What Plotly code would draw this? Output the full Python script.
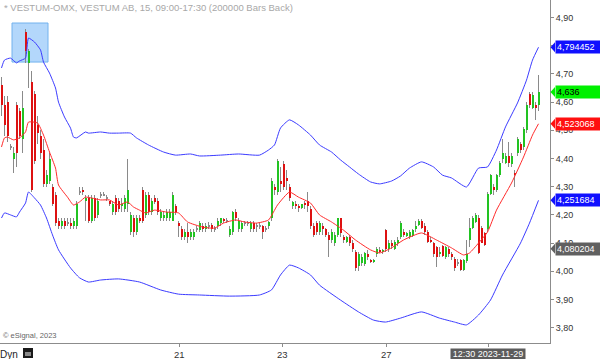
import plotly.graph_objects as go

# ---------------- data ----------------
bar_open = [4.66,4.59,4.60,4.44,4.40,4.59,4.57,4.47,4.85,4.74,
            4.67,4.63,4.52,4.48,4.43,4.31,4.32,4.30,4.27,4.18,
            4.16,4.18,4.17,4.17,4.16,4.16,4.28,4.29,4.25,4.26,
            4.18,4.26,4.20,4.27,4.27,4.26,4.25,4.21,4.26,4.25,
            4.23,4.22,4.24,4.14,4.19,4.14,4.19,4.29,4.20,4.27,
            4.21,4.26,4.25,4.19,4.19,4.19,4.19,4.18,4.23,4.17,
            4.15,4.12,4.14,4.12,4.12,4.15,4.145,4.16,4.15,4.16,
            4.165,4.15,4.16,4.17,4.185,4.18,4.13,4.14,4.21,4.15,
            4.15,4.17,4.17,4.15,4.17,4.16,4.16,4.16,4.15,4.16,
            4.19,4.30,4.28,4.32,4.38,4.33,4.30,4.23,4.24,4.23,
            4.225,4.24,4.25,4.22,4.16,4.17,4.14,4.16,4.15,4.13,
            4.11,4.10,4.13,4.19,4.12,4.105,4.12,4.10,4.07,4.02,
            4.03,4.025,4.06,4.04,4.035,4.06,4.075,4.07,4.145,4.08,
            4.10,4.08,4.10,4.12,4.14,4.125,4.12,4.125,4.15,4.165,
            4.18,4.16,4.14,4.11,4.10,4.085,4.06,4.09,4.05,4.08,
            4.06,4.045,4.03,4.04,4.005,4.035,4.11,4.155,4.175,4.19,
            4.155,4.135,4.15,4.275,4.30,4.29,4.34,4.40,4.385,4.41,
            4.38,4.35,4.42,4.45,4.44,4.50,4.63,4.58,4.59,4.59]
bar_high = [4.69,4.62,4.62,4.45,4.44,4.60,4.58,4.64,4.86,4.79,
            4.71,4.64,4.55,4.50,4.47,4.36,4.42,4.31,4.28,4.19,
            4.19,4.19,4.19,4.19,4.19,4.25,4.30,4.30,4.27,4.27,
            4.27,4.27,4.26,4.28,4.28,4.27,4.25,4.25,4.27,4.26,
            4.26,4.27,4.40,4.21,4.20,4.20,4.20,4.30,4.28,4.28,
            4.26,4.27,4.26,4.22,4.21,4.22,4.22,4.28,4.24,4.18,
            4.16,4.15,4.17,4.15,4.15,4.16,4.18,4.17,4.17,4.175,
            4.17,4.16,4.19,4.19,4.19,4.19,4.16,4.215,4.22,4.19,
            4.18,4.18,4.18,4.18,4.18,4.17,4.17,4.165,4.16,4.18,
            4.33,4.31,4.40,4.37,4.39,4.36,4.31,4.25,4.25,4.24,
            4.24,4.25,4.28,4.23,4.17,4.18,4.18,4.17,4.155,4.14,
            4.15,4.14,4.19,4.19,4.13,4.125,4.13,4.11,4.075,4.07,
            4.06,4.07,4.075,4.045,4.045,4.085,4.085,4.08,4.15,4.11,
            4.11,4.11,4.12,4.18,4.15,4.14,4.145,4.15,4.18,4.185,
            4.185,4.17,4.145,4.12,4.105,4.09,4.085,4.095,4.09,4.085,
            4.07,4.05,4.045,4.045,4.045,4.11,4.19,4.195,4.205,4.20,
            4.16,4.14,4.28,4.345,4.31,4.345,4.39,4.47,4.42,4.46,
            4.42,4.36,4.475,4.46,4.51,4.60,4.635,4.635,4.60,4.695]
bar_low = [4.55,4.48,4.46,4.43,4.35,4.37,4.47,4.42,4.74,4.65,
           4.28,4.38,4.45,4.40,4.30,4.30,4.31,4.23,4.16,4.15,
           4.15,4.15,4.16,4.15,4.15,4.15,4.27,4.27,4.18,4.17,
           4.17,4.18,4.19,4.26,4.27,4.25,4.23,4.20,4.20,4.21,
           4.21,4.21,4.21,4.13,4.12,4.13,4.17,4.17,4.19,4.20,
           4.20,4.24,4.20,4.18,4.18,4.18,4.18,4.18,4.20,4.12,
           4.11,4.11,4.10,4.11,4.11,4.14,4.14,4.14,4.14,4.15,
           4.14,4.14,4.15,4.16,4.17,4.17,4.12,4.13,4.18,4.14,
           4.14,4.16,4.16,4.14,4.14,4.14,4.15,4.115,4.14,4.15,
           4.18,4.27,4.27,4.28,4.29,4.29,4.25,4.22,4.22,4.21,
           4.22,4.22,4.21,4.15,4.12,4.13,4.13,4.13,4.12,4.05,
           4.10,4.09,4.12,4.12,4.10,4.10,4.09,4.07,4.00,4.00,
           4.02,4.02,4.04,4.03,4.03,4.05,4.065,4.06,4.07,4.07,
           4.08,4.075,4.09,4.115,4.12,4.12,4.115,4.12,4.14,4.16,
           4.15,4.13,4.10,4.10,4.05,4.015,4.05,4.05,4.045,4.05,
           4.04,4.00,4.02,4.00,4.00,4.03,4.085,4.15,4.17,4.06,
           4.10,4.09,4.14,4.27,4.27,4.28,4.335,4.385,4.38,4.37,
           4.37,4.30,4.41,4.42,4.43,4.49,4.58,4.575,4.535,4.57]
bar_close = [4.59,4.52,4.48,4.44,4.42,4.42,4.48,4.58,4.78,4.78,
             4.29,4.39,4.49,4.42,4.31,4.34,4.40,4.24,4.17,4.16,
             4.18,4.16,4.17,4.16,4.18,4.24,4.28,4.28,4.26,4.18,
             4.26,4.19,4.25,4.27,4.27,4.26,4.24,4.24,4.21,4.22,
             4.24,4.26,4.29,4.20,4.14,4.19,4.18,4.18,4.27,4.21,
             4.25,4.245,4.21,4.21,4.20,4.21,4.21,4.27,4.21,4.16,
             4.12,4.14,4.12,4.14,4.14,4.15,4.17,4.15,4.16,4.16,
             4.15,4.15,4.18,4.19,4.18,4.18,4.15,4.21,4.19,4.18,
             4.17,4.17,4.17,4.17,4.15,4.16,4.16,4.14,4.15,4.175,
             4.32,4.29,4.39,4.31,4.30,4.32,4.26,4.245,4.23,4.225,
             4.24,4.235,4.23,4.16,4.13,4.14,4.17,4.15,4.13,4.11,
             4.14,4.13,4.19,4.135,4.11,4.12,4.10,4.08,4.01,4.06,
             4.05,4.065,4.05,4.035,4.04,4.08,4.07,4.075,4.08,4.10,
             4.09,4.105,4.11,4.17,4.13,4.135,4.14,4.145,4.16,4.18,
             4.155,4.14,4.105,4.105,4.06,4.05,4.07,4.055,4.085,4.06,
             4.05,4.01,4.03,4.005,4.04,4.06,4.155,4.19,4.20,4.065,
             4.10,4.095,4.275,4.34,4.29,4.34,4.385,4.42,4.41,4.385,
             4.41,4.34,4.47,4.43,4.505,4.59,4.59,4.625,4.58,4.636]

upper_idx = [0,1,3,5,6,8,9,11,13,14,16,18,19,21,23,24,25,28,29,33,
             36,39,43,45,49,54,58,63,66,73,79,86,89,91,93,96,99,103,106,110,
             113,116,119,123,126,130,133,136,140,144,147,150,155,159,162,165,168,172,175,177,179]
upper_val = [4.721,4.749,4.756,4.739,4.746,4.756,4.827,4.813,4.785,4.742,
             4.703,4.650,4.600,4.547,4.508,4.476,4.473,4.494,4.490,4.494,
             4.490,4.490,4.490,4.473,4.448,4.423,4.412,4.416,4.409,4.412,
             4.416,4.412,4.430,4.448,4.508,4.537,4.519,4.483,4.448,4.423,
             4.395,4.370,4.345,4.317,4.310,4.320,4.338,4.366,4.388,4.370,
             4.341,4.331,4.299,4.366,4.370,4.430,4.512,4.597,4.678,4.749,4.794452]

lower_idx = [0,1,3,5,6,8,9,11,13,15,17,19,23,26,29,33,39,46,53,59,
             66,76,86,90,93,96,99,103,106,113,119,124,128,133,140,146,151,155,159,163,
             167,173,176,179]
lower_val = [4.189,4.207,4.200,4.193,4.210,4.242,4.281,4.260,4.235,4.189,
             4.129,4.076,4.012,3.977,3.962,3.969,3.973,3.962,3.934,3.919,
             3.916,3.912,3.916,3.934,3.987,4.022,4.012,3.987,3.951,3.898,
             3.856,3.827,3.820,3.834,3.856,3.834,3.820,3.810,3.845,3.898,
             3.987,4.100,4.171,4.251684]

mid_idx = [0,1,2,4,6,8,9,12,14,16,18,19,22,24,26,28,30,33,36,39,
           42,44,46,48,51,55,59,62,67,71,74,78,81,85,89,92,96,99,103,106,
           110,114,118,123,126,130,134,140,145,150,154,156,159,162,165,170,174,177,179]
mid_val = [4.441,4.473,4.476,4.466,4.473,4.494,4.529,4.526,4.483,4.423,
           4.366,4.306,4.263,4.235,4.246,4.263,4.260,4.253,4.253,4.235,
           4.246,4.228,4.217,4.207,4.217,4.210,4.207,4.175,4.157,4.153,
           4.171,4.182,4.175,4.171,4.182,4.235,4.281,4.263,4.242,4.200,
           4.175,4.146,4.111,4.076,4.065,4.083,4.111,4.136,4.111,4.083,
           4.058,4.065,4.100,4.139,4.217,4.313,4.405,4.483,4.523068]

xtick_pos = [59.2, 93.8, 128.2, 162.2]
xtick_text = ["21", "23", "27", ""]
cursor_label = "12:30 2023-11-29"
cursor_pos = 162.2

right_label_vals = [4.794452, 4.636, 4.523068, 4.251684, 4.080204]
right_label_text = ["4,794452", "4,636", "4,523068", "4,251684", "4,080204"]
right_label_bg = ["#1010ff", "#00f000", "#ff1010", "#1010ff", "#606060"]
right_label_fg = ["white", "black", "white", "white", "white"]

title_text = "* VESTUM-OMX, VESTUM AB, 15, 09:00-17:30 (200000 Bars Back)"

# ---------------- figure ----------------
FONT = "Liberation Sans, Arial, sans-serif"
W, H = 600, 359
ML, MR, MT, MB = 0, 50, 0, 16
PW = W - ML - MR
PH = H - MT - MB

n = len(bar_open)
idx = list(range(n))

GREEN = "#22c322"
RED = "#dd1111"
WICK = "#8a8a8a"

fig = go.Figure()

# wicks
fig.add_trace(go.Bar(x=idx, base=bar_low,
                     y=[h - l for h, l in zip(bar_high, bar_low)],
                     width=1/3, marker=dict(color=WICK, line=dict(width=0)),
                     hoverinfo="skip", showlegend=False))

# bodies
body_base, body_h, body_col = [], [], []
for o, c in zip(bar_open, bar_close):
    d = c - o
    if abs(d) < 0.004:
        body_base.append(o - 0.002)
        body_h.append(0.004)
        body_col.append(WICK)
    else:
        body_base.append(o)
        body_h.append(d)
        body_col.append(GREEN if d > 0 else RED)
fig.add_trace(go.Bar(x=idx, base=body_base, y=body_h, width=2/3,
                     marker=dict(color=body_col, line=dict(width=0)),
                     hoverinfo="skip", showlegend=False))

line_style = dict(shape="spline", smoothing=0.5, width=1)
fig.add_trace(go.Scatter(x=upper_idx, y=upper_val, mode="lines",
                         line=dict(color="#3b3bff", **line_style),
                         hoverinfo="skip", showlegend=False))
fig.add_trace(go.Scatter(x=lower_idx, y=lower_val, mode="lines",
                         line=dict(color="#3b3bff", **line_style),
                         hoverinfo="skip", showlegend=False))
fig.add_trace(go.Scatter(x=mid_idx, y=mid_val, mode="lines",
                         line=dict(color="#ff2a2a", **line_style),
                         hoverinfo="skip", showlegend=False))

shapes = []
# highlight box around the peak
shapes.append(dict(type="rect", xref="x", yref="y", x0=3.5, x1=15.5,
                   y0=4.742, y1=4.8805, fillcolor="#b3d7fb",
                   line=dict(color="#72b2ee", width=1), layer="below"))

annotations = []
tri_h = 5.0 / 282.0
for v, t, bg, fg in zip(right_label_vals, right_label_text, right_label_bg, right_label_fg):
    shapes.append(dict(type="path", xref="paper", yref="y",
                       path=f"M {(PW + 0.5) / PW},{v} L {(PW + 5) / PW},{v + tri_h} "
                            f"L {(PW + 5) / PW},{v - tri_h} Z",
                       fillcolor=bg, line=dict(width=0), layer="above"))
    annotations.append(dict(xref="paper", yref="y", x=(PW + 4.5) / PW, y=v,
                            xanchor="left", yanchor="middle", text=t,
                            showarrow=False, bgcolor=bg, width=44, height=10,
                            borderpad=1, align="left",
                            font=dict(family=FONT, size=9, color=fg)))

# x tick labels (drawn as text just under the axis)
for p, t in zip(xtick_pos, xtick_text):
    if t:
        annotations.append(dict(xref="x", yref="paper", x=p, y=0,
                                xanchor="center", yanchor="middle", yshift=-11,
                                text=t, showarrow=False,
                                font=dict(family=FONT, size=9.5, color="#333333")))

# cursor time label
annotations.append(dict(xref="x", yref="paper", x=cursor_pos, y=0,
                        xanchor="center", yanchor="top", yshift=-5,
                        text=cursor_label, showarrow=False, bgcolor="#5c5c5c",
                        width=74, height=10, borderpad=0,
                        font=dict(family=FONT, size=9, color="white")))
# title
annotations.append(dict(xref="paper", yref="paper", x=0, y=1, xanchor="left",
                        yanchor="top", xshift=2, yshift=0, text=title_text,
                        showarrow=False,
                        font=dict(family=FONT, size=9.5, color="#a8a8a8")))
# copyright
annotations.append(dict(xref="paper", yref="paper", x=0, y=(343 - 335) / PH,
                        xanchor="left", yanchor="middle", xshift=1,
                        text="© eSignal, 2023", showarrow=False,
                        font=dict(family=FONT, size=7.5, color="#666666")))
# Dyn label
annotations.append(dict(xref="paper", yref="paper", x=0, y=0, xanchor="left",
                        yanchor="middle", xshift=-2, yshift=-11, text="Dyn",
                        showarrow=False,
                        font=dict(family=FONT, size=10, color="#222222")))
# lock icon
shapes.append(dict(type="rect", xref="paper", yref="paper",
                   x0=23 / PW, x1=33 / PW, y0=-(358 - PH) / PH, y1=-(348 - PH) / PH,
                   fillcolor="#1a1a1a", line=dict(width=0)))
shapes.append(dict(type="rect", xref="paper", yref="paper",
                   x0=25 / PW, x1=31 / PW, y0=-(356 - PH) / PH, y1=-(352 - PH) / PH,
                   fillcolor="#8a8a8a", line=dict(width=0)))

fig.update_layout(
    width=W, height=H,
    margin=dict(l=ML, r=MR, t=MT, b=MB, pad=0),
    paper_bgcolor="white", plot_bgcolor="white",
    barmode="overlay", bargap=0, bargroupgap=0,
    separators=", ",
    showlegend=False,
    shapes=shapes, annotations=annotations,
    font=dict(family=FONT, size=9, color="#333333"),
    xaxis=dict(range=[-0.5, -0.5 + PW / 3.0], showgrid=False, zeroline=False,
               showline=True, linecolor="#8c8c8c", linewidth=1,
               tickmode="array", tickvals=xtick_pos, ticktext=xtick_text,
               showticklabels=False,
               ticks="outside", ticklen=3, tickcolor="#8c8c8c",
               fixedrange=True),
    yaxis=dict(side="right", range=[4.90 - (PH - 17.5) / 282.0, 4.90 + 17.5 / 282.0],
               showgrid=False, zeroline=False, showline=True,
               linecolor="#8c8c8c", linewidth=1, ticks="outside", ticklen=3,
               tickcolor="#8c8c8c", dtick=0.1, tick0=3.8, tickformat=".2f",
               tickfont=dict(family=FONT, size=9, color="#333333"),
               fixedrange=True),
)

fig.write_html("out.html", config={"responsive": False, "displayModeBar": False},
               post_script="document.body.style.margin='0px';document.body.style.padding='0px';")
